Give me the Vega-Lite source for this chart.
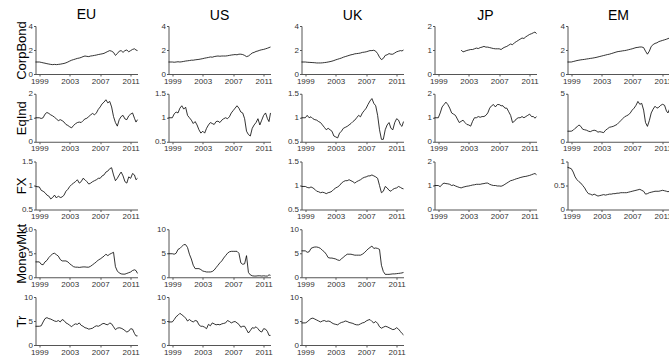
{
"$schema":"https://vega.github.io/schema/vega-lite/v6.json",
"padding":{"left":15.5,"top":7,"right":0,"bottom":0},
"background":"white",
"config":{
 "view":{"stroke":null},
 "font":"Liberation Sans",
 "axis":{"grid":false,"domainColor":"#555","domainWidth":1,"tickColor":"#555","tickSize":2,"labelPadding":1,"labelFont":"Liberation Sans","labelFontSize":8,"labelColor":"#333","title":null},
 "axisY":{"labelPadding":1,"titleFont":"Liberation Sans","titleFontSize":13,"titleFontWeight":"normal","titleColor":"black","titleX":-7,"titleY":24,"titleAngle":-90},
 "title":{"font":"Liberation Sans","fontSize":14,"fontWeight":"normal","color":"black","frame":"group","offset":1,"dy":2},
 "line":{"color":"black","strokeWidth":0.8}
},
"datasets":{"d":[
{"t":1998.5,"EU_CB":1.00,"EU_EQ":1.00,"EU_FX":0.98,"EU_MM":3.2,"EU_TR":3.9,"US_CB":1.00,"US_EQ":1.00,"US_MM":4.9,"US_TR":4.8,"UK_CB":1.00,"UK_EQ":1.00,"UK_FX":0.98,"UK_MM":5.5,"UK_TR":4.6,"JP_CB":null,"JP_EQ":1.00,"JP_FX":1.00,"EM_CB":1.00,"EM_EQ":1.10,"EM_FX":0.88},
{"t":1999.0,"EU_CB":1.00,"EU_EQ":1.00,"EU_FX":0.97,"EU_MM":3.2,"EU_TR":3.9,"US_CB":1.00,"US_EQ":1.00,"US_MM":4.9,"US_TR":4.8,"UK_CB":1.00,"UK_EQ":1.00,"UK_FX":0.98,"UK_MM":5.5,"UK_TR":4.6,"JP_CB":null,"JP_EQ":1.00,"JP_FX":1.00,"EM_CB":1.00,"EM_EQ":1.10,"EM_FX":0.85},
{"t":1999.25,"EU_CB":0.97,"EU_EQ":0.97,"EU_FX":0.90,"EU_MM":2.7,"EU_TR":4.0,"US_CB":0.98,"US_EQ":1.08,"US_MM":4.8,"US_TR":5.3,"UK_CB":0.98,"UK_EQ":1.05,"UK_FX":0.96,"UK_MM":5.2,"UK_TR":4.8,"JP_CB":null,"JP_EQ":1.20,"JP_FX":0.95,"EM_CB":1.04,"EM_EQ":1.20,"EM_FX":0.78},
{"t":1999.5,"EU_CB":0.93,"EU_EQ":1.00,"EU_FX":0.88,"EU_MM":2.6,"EU_TR":4.8,"US_CB":1.00,"US_EQ":1.12,"US_MM":5.0,"US_TR":5.9,"UK_CB":0.97,"UK_EQ":1.00,"UK_FX":0.95,"UK_MM":5.3,"UK_TR":5.2,"JP_CB":null,"JP_EQ":1.45,"JP_FX":1.05,"EM_CB":1.08,"EM_EQ":1.40,"EM_FX":0.68},
{"t":1999.75,"EU_CB":0.90,"EU_EQ":1.15,"EU_FX":0.85,"EU_MM":3.2,"EU_TR":5.5,"US_CB":1.02,"US_EQ":1.10,"US_MM":5.8,"US_TR":6.2,"UK_CB":0.96,"UK_EQ":1.02,"UK_FX":0.97,"UK_MM":6.0,"UK_TR":5.5,"JP_CB":null,"JP_EQ":1.55,"JP_FX":1.10,"EM_CB":1.12,"EM_EQ":1.55,"EM_FX":0.62},
{"t":2000.0,"EU_CB":0.86,"EU_EQ":1.22,"EU_FX":0.80,"EU_MM":3.5,"EU_TR":5.7,"US_CB":1.00,"US_EQ":1.20,"US_MM":6.0,"US_TR":6.6,"UK_CB":0.95,"UK_EQ":0.98,"UK_FX":0.95,"UK_MM":6.2,"UK_TR":5.6,"JP_CB":null,"JP_EQ":1.65,"JP_FX":1.08,"EM_CB":1.15,"EM_EQ":1.75,"EM_FX":0.58},
{"t":2000.25,"EU_CB":0.83,"EU_EQ":1.18,"EU_FX":0.78,"EU_MM":4.1,"EU_TR":5.5,"US_CB":1.02,"US_EQ":1.25,"US_MM":6.4,"US_TR":6.3,"UK_CB":0.94,"UK_EQ":0.96,"UK_FX":0.92,"UK_MM":6.3,"UK_TR":5.4,"JP_CB":null,"JP_EQ":1.55,"JP_FX":1.07,"EM_CB":1.18,"EM_EQ":1.60,"EM_FX":0.55},
{"t":2000.5,"EU_CB":0.80,"EU_EQ":1.12,"EU_FX":0.72,"EU_MM":4.5,"EU_TR":5.4,"US_CB":1.05,"US_EQ":1.18,"US_MM":6.8,"US_TR":6.0,"UK_CB":0.92,"UK_EQ":0.95,"UK_FX":0.88,"UK_MM":6.3,"UK_TR":5.2,"JP_CB":null,"JP_EQ":1.40,"JP_FX":1.05,"EM_CB":1.20,"EM_EQ":1.30,"EM_FX":0.50},
{"t":2000.75,"EU_CB":0.78,"EU_EQ":1.08,"EU_FX":0.75,"EU_MM":4.9,"EU_TR":5.2,"US_CB":1.08,"US_EQ":1.22,"US_MM":6.8,"US_TR":5.6,"UK_CB":0.92,"UK_EQ":0.92,"UK_FX":0.87,"UK_MM":6.2,"UK_TR":5.0,"JP_CB":null,"JP_EQ":1.20,"JP_FX":1.00,"EM_CB":1.22,"EM_EQ":1.25,"EM_FX":0.45},
{"t":2001.0,"EU_CB":0.80,"EU_EQ":1.02,"EU_FX":0.80,"EU_MM":5.0,"EU_TR":5.0,"US_CB":1.10,"US_EQ":1.05,"US_MM":6.2,"US_TR":5.0,"UK_CB":0.92,"UK_EQ":0.90,"UK_FX":0.85,"UK_MM":6.0,"UK_TR":4.8,"JP_CB":null,"JP_EQ":1.15,"JP_FX":1.02,"EM_CB":1.25,"EM_EQ":1.20,"EM_FX":0.38},
{"t":2001.25,"EU_CB":0.78,"EU_EQ":0.95,"EU_FX":0.74,"EU_MM":4.7,"EU_TR":4.9,"US_CB":1.12,"US_EQ":1.00,"US_MM":4.8,"US_TR":5.3,"UK_CB":0.93,"UK_EQ":0.85,"UK_FX":0.86,"UK_MM":5.6,"UK_TR":5.0,"JP_CB":null,"JP_EQ":1.10,"JP_FX":0.98,"EM_CB":1.27,"EM_EQ":1.10,"EM_FX":0.33},
{"t":2001.5,"EU_CB":0.80,"EU_EQ":0.88,"EU_FX":0.78,"EU_MM":4.4,"EU_TR":5.1,"US_CB":1.15,"US_EQ":0.95,"US_MM":3.8,"US_TR":5.0,"UK_CB":0.95,"UK_EQ":0.80,"UK_FX":0.85,"UK_MM":5.3,"UK_TR":5.1,"JP_CB":null,"JP_EQ":0.95,"JP_FX":0.95,"EM_CB":1.30,"EM_EQ":1.05,"EM_FX":0.32},
{"t":2001.75,"EU_CB":0.82,"EU_EQ":0.92,"EU_FX":0.75,"EU_MM":3.7,"EU_TR":4.8,"US_CB":1.15,"US_EQ":0.88,"US_MM":2.5,"US_TR":4.8,"UK_CB":0.97,"UK_EQ":0.75,"UK_FX":0.83,"UK_MM":4.8,"UK_TR":4.9,"JP_CB":null,"JP_EQ":0.80,"JP_FX":0.92,"EM_CB":1.32,"EM_EQ":1.15,"EM_FX":0.30},
{"t":2002.0,"EU_CB":0.85,"EU_EQ":0.88,"EU_FX":0.76,"EU_MM":3.4,"EU_TR":5.3,"US_CB":1.18,"US_EQ":0.92,"US_MM":1.8,"US_TR":5.1,"UK_CB":1.00,"UK_EQ":0.78,"UK_FX":0.85,"UK_MM":4.1,"UK_TR":5.0,"JP_CB":1.00,"JP_EQ":0.85,"JP_FX":0.90,"EM_CB":1.35,"EM_EQ":1.20,"EM_FX":0.32},
{"t":2002.25,"EU_CB":0.88,"EU_EQ":0.82,"EU_FX":0.80,"EU_MM":3.4,"EU_TR":5.1,"US_CB":1.20,"US_EQ":0.85,"US_MM":1.8,"US_TR":5.0,"UK_CB":1.03,"UK_EQ":0.75,"UK_FX":0.86,"UK_MM":4.0,"UK_TR":4.9,"JP_CB":0.92,"JP_EQ":0.90,"JP_FX":0.93,"EM_CB":1.38,"EM_EQ":1.15,"EM_FX":0.30},
{"t":2002.5,"EU_CB":0.93,"EU_EQ":0.72,"EU_FX":0.88,"EU_MM":3.4,"EU_TR":4.6,"US_CB":1.22,"US_EQ":0.75,"US_MM":1.8,"US_TR":4.2,"UK_CB":1.07,"UK_EQ":0.72,"UK_FX":0.88,"UK_MM":4.0,"UK_TR":4.6,"JP_CB":0.95,"JP_EQ":0.80,"JP_FX":0.95,"EM_CB":1.42,"EM_EQ":1.00,"EM_FX":0.28},
{"t":2002.75,"EU_CB":1.00,"EU_EQ":0.68,"EU_FX":0.92,"EU_MM":3.2,"EU_TR":4.4,"US_CB":1.25,"US_EQ":0.68,"US_MM":1.6,"US_TR":3.9,"UK_CB":1.12,"UK_EQ":0.62,"UK_FX":0.92,"UK_MM":3.9,"UK_TR":4.4,"JP_CB":0.98,"JP_EQ":0.72,"JP_FX":0.97,"EM_CB":1.46,"EM_EQ":1.05,"EM_FX":0.29},
{"t":2003.0,"EU_CB":1.08,"EU_EQ":0.62,"EU_FX":0.98,"EU_MM":2.8,"EU_TR":4.1,"US_CB":1.28,"US_EQ":0.72,"US_MM":1.3,"US_TR":3.9,"UK_CB":1.18,"UK_EQ":0.60,"UK_FX":0.95,"UK_MM":3.8,"UK_TR":4.3,"JP_CB":1.00,"JP_EQ":0.70,"JP_FX":0.98,"EM_CB":1.50,"EM_EQ":1.00,"EM_FX":0.30},
{"t":2003.25,"EU_CB":1.15,"EU_EQ":0.58,"EU_FX":1.02,"EU_MM":2.5,"EU_TR":3.8,"US_CB":1.32,"US_EQ":0.68,"US_MM":1.2,"US_TR":3.7,"UK_CB":1.23,"UK_EQ":0.58,"UK_FX":0.97,"UK_MM":3.6,"UK_TR":4.2,"JP_CB":1.02,"JP_EQ":0.65,"JP_FX":1.00,"EM_CB":1.54,"EM_EQ":0.95,"EM_FX":0.31},
{"t":2003.5,"EU_CB":1.20,"EU_EQ":0.68,"EU_FX":1.05,"EU_MM":2.2,"EU_TR":4.2,"US_CB":1.35,"US_EQ":0.78,"US_MM":1.1,"US_TR":3.4,"UK_CB":1.28,"UK_EQ":0.68,"UK_FX":1.00,"UK_MM":3.5,"UK_TR":4.5,"JP_CB":1.02,"JP_EQ":0.85,"JP_FX":1.02,"EM_CB":1.58,"EM_EQ":1.20,"EM_FX":0.30},
{"t":2003.75,"EU_CB":1.25,"EU_EQ":0.75,"EU_FX":1.08,"EU_MM":2.1,"EU_TR":4.4,"US_CB":1.38,"US_EQ":0.85,"US_MM":1.1,"US_TR":4.3,"UK_CB":1.33,"UK_EQ":0.72,"UK_FX":1.05,"UK_MM":3.8,"UK_TR":4.7,"JP_CB":1.05,"JP_EQ":1.00,"JP_FX":1.03,"EM_CB":1.62,"EM_EQ":1.35,"EM_FX":0.31},
{"t":2004.0,"EU_CB":1.30,"EU_EQ":0.80,"EU_FX":1.12,"EU_MM":2.1,"EU_TR":4.3,"US_CB":1.42,"US_EQ":0.90,"US_MM":1.1,"US_TR":4.0,"UK_CB":1.40,"UK_EQ":0.78,"UK_FX":1.08,"UK_MM":4.2,"UK_TR":4.8,"JP_CB":1.08,"JP_EQ":1.00,"JP_FX":1.05,"EM_CB":1.65,"EM_EQ":1.50,"EM_FX":0.32},
{"t":2004.25,"EU_CB":1.33,"EU_EQ":0.82,"EU_FX":1.05,"EU_MM":2.05,"EU_TR":4.6,"US_CB":1.40,"US_EQ":0.88,"US_MM":1.2,"US_TR":4.6,"UK_CB":1.45,"UK_EQ":0.80,"UK_FX":1.10,"UK_MM":4.5,"UK_TR":5.0,"JP_CB":1.06,"JP_EQ":1.05,"JP_FX":1.05,"EM_CB":1.70,"EM_EQ":1.55,"EM_FX":0.32},
{"t":2004.5,"EU_CB":1.38,"EU_EQ":0.80,"EU_FX":1.08,"EU_MM":2.1,"EU_TR":4.1,"US_CB":1.45,"US_EQ":0.86,"US_MM":1.5,"US_TR":4.4,"UK_CB":1.50,"UK_EQ":0.82,"UK_FX":1.10,"UK_MM":4.8,"UK_TR":4.9,"JP_CB":1.10,"JP_EQ":1.02,"JP_FX":1.05,"EM_CB":1.75,"EM_EQ":1.60,"EM_FX":0.33},
{"t":2004.75,"EU_CB":1.45,"EU_EQ":0.88,"EU_FX":1.15,"EU_MM":2.15,"EU_TR":3.9,"US_CB":1.48,"US_EQ":0.92,"US_MM":2.0,"US_TR":4.2,"UK_CB":1.55,"UK_EQ":0.85,"UK_FX":1.12,"UK_MM":4.8,"UK_TR":4.7,"JP_CB":1.12,"JP_EQ":1.05,"JP_FX":1.07,"EM_CB":1.80,"EM_EQ":1.70,"EM_FX":0.33},
{"t":2005.0,"EU_CB":1.50,"EU_EQ":0.95,"EU_FX":1.12,"EU_MM":2.15,"EU_TR":3.6,"US_CB":1.50,"US_EQ":0.93,"US_MM":2.5,"US_TR":4.3,"UK_CB":1.60,"UK_EQ":0.88,"UK_FX":1.10,"UK_MM":4.8,"UK_TR":4.6,"JP_CB":1.15,"JP_EQ":1.05,"JP_FX":1.08,"EM_CB":1.85,"EM_EQ":1.80,"EM_FX":0.34},
{"t":2005.25,"EU_CB":1.47,"EU_EQ":0.98,"EU_FX":1.08,"EU_MM":2.1,"EU_TR":3.5,"US_CB":1.48,"US_EQ":0.90,"US_MM":3.0,"US_TR":4.2,"UK_CB":1.63,"UK_EQ":0.92,"UK_FX":1.08,"UK_MM":4.7,"UK_TR":4.5,"JP_CB":1.12,"JP_EQ":1.10,"JP_FX":1.10,"EM_CB":1.88,"EM_EQ":2.00,"EM_FX":0.34},
{"t":2005.5,"EU_CB":1.45,"EU_EQ":1.05,"EU_FX":1.03,"EU_MM":2.1,"EU_TR":3.3,"US_CB":1.50,"US_EQ":0.95,"US_MM":3.4,"US_TR":4.4,"UK_CB":1.68,"UK_EQ":0.95,"UK_FX":1.05,"UK_MM":4.6,"UK_TR":4.3,"JP_CB":1.12,"JP_EQ":1.20,"JP_FX":1.10,"EM_CB":1.90,"EM_EQ":2.20,"EM_FX":0.35},
{"t":2005.75,"EU_CB":1.50,"EU_EQ":1.12,"EU_FX":1.05,"EU_MM":2.3,"EU_TR":3.4,"US_CB":1.50,"US_EQ":0.98,"US_MM":4.0,"US_TR":4.5,"UK_CB":1.70,"UK_EQ":1.00,"UK_FX":1.08,"UK_MM":4.6,"UK_TR":4.2,"JP_CB":1.10,"JP_EQ":1.40,"JP_FX":1.05,"EM_CB":1.93,"EM_EQ":2.40,"EM_FX":0.35},
{"t":2006.0,"EU_CB":1.52,"EU_EQ":1.18,"EU_FX":1.08,"EU_MM":2.6,"EU_TR":3.5,"US_CB":1.50,"US_EQ":1.00,"US_MM":4.5,"US_TR":4.6,"UK_CB":1.72,"UK_EQ":1.05,"UK_FX":1.10,"UK_MM":4.6,"UK_TR":4.2,"JP_CB":1.08,"JP_EQ":1.50,"JP_FX":1.02,"EM_CB":1.95,"EM_EQ":2.60,"EM_FX":0.35},
{"t":2006.25,"EU_CB":1.55,"EU_EQ":1.12,"EU_FX":1.10,"EU_MM":2.9,"EU_TR":3.8,"US_CB":1.52,"US_EQ":0.98,"US_MM":5.0,"US_TR":5.1,"UK_CB":1.75,"UK_EQ":1.02,"UK_FX":1.12,"UK_MM":4.6,"UK_TR":4.4,"JP_CB":1.06,"JP_EQ":1.55,"JP_FX":1.00,"EM_CB":1.98,"EM_EQ":2.70,"EM_FX":0.35},
{"t":2006.5,"EU_CB":1.58,"EU_EQ":1.20,"EU_FX":1.12,"EU_MM":3.2,"EU_TR":4.0,"US_CB":1.55,"US_EQ":1.02,"US_MM":5.3,"US_TR":4.9,"UK_CB":1.80,"UK_EQ":1.10,"UK_FX":1.15,"UK_MM":4.8,"UK_TR":4.6,"JP_CB":1.05,"JP_EQ":1.45,"JP_FX":1.00,"EM_CB":2.02,"EM_EQ":2.80,"EM_FX":0.36},
{"t":2006.75,"EU_CB":1.62,"EU_EQ":1.35,"EU_FX":1.15,"EU_MM":3.6,"EU_TR":3.9,"US_CB":1.58,"US_EQ":1.10,"US_MM":5.4,"US_TR":4.6,"UK_CB":1.82,"UK_EQ":1.15,"UK_FX":1.17,"UK_MM":5.1,"UK_TR":4.7,"JP_CB":1.05,"JP_EQ":1.55,"JP_FX":0.98,"EM_CB":2.06,"EM_EQ":3.00,"EM_FX":0.37},
{"t":2007.0,"EU_CB":1.65,"EU_EQ":1.45,"EU_FX":1.15,"EU_MM":3.8,"EU_TR":4.1,"US_CB":1.60,"US_EQ":1.15,"US_MM":5.4,"US_TR":4.8,"UK_CB":1.85,"UK_EQ":1.20,"UK_FX":1.18,"UK_MM":5.5,"UK_TR":5.0,"JP_CB":1.05,"JP_EQ":1.55,"JP_FX":0.98,"EM_CB":2.10,"EM_EQ":3.30,"EM_FX":0.38},
{"t":2007.25,"EU_CB":1.68,"EU_EQ":1.58,"EU_FX":1.20,"EU_MM":4.1,"EU_TR":4.4,"US_CB":1.62,"US_EQ":1.20,"US_MM":5.4,"US_TR":4.9,"UK_CB":1.90,"UK_EQ":1.28,"UK_FX":1.20,"UK_MM":5.9,"UK_TR":5.2,"JP_CB":1.02,"JP_EQ":1.50,"JP_FX":0.97,"EM_CB":2.15,"EM_EQ":3.50,"EM_FX":0.39},
{"t":2007.5,"EU_CB":1.72,"EU_EQ":1.65,"EU_FX":1.22,"EU_MM":4.4,"EU_TR":4.5,"US_CB":1.60,"US_EQ":1.25,"US_MM":5.4,"US_TR":4.6,"UK_CB":1.95,"UK_EQ":1.35,"UK_FX":1.20,"UK_MM":6.2,"UK_TR":5.3,"JP_CB":1.08,"JP_EQ":1.50,"JP_FX":1.00,"EM_CB":2.20,"EM_EQ":3.80,"EM_FX":0.40},
{"t":2007.75,"EU_CB":1.80,"EU_EQ":1.75,"EU_FX":1.28,"EU_MM":4.8,"EU_TR":4.3,"US_CB":1.65,"US_EQ":1.20,"US_MM":5.0,"US_TR":4.3,"UK_CB":1.95,"UK_EQ":1.40,"UK_FX":1.22,"UK_MM":6.5,"UK_TR":4.9,"JP_CB":1.12,"JP_EQ":1.40,"JP_FX":1.05,"EM_CB":2.22,"EM_EQ":4.20,"EM_FX":0.41},
{"t":2008.0,"EU_CB":1.88,"EU_EQ":1.62,"EU_FX":1.30,"EU_MM":4.5,"EU_TR":4.2,"US_CB":1.65,"US_EQ":1.12,"US_MM":3.0,"US_TR":3.7,"UK_CB":1.98,"UK_EQ":1.30,"UK_FX":1.20,"UK_MM":6.0,"UK_TR":4.6,"JP_CB":1.15,"JP_EQ":1.40,"JP_FX":1.10,"EM_CB":2.25,"EM_EQ":3.90,"EM_FX":0.42},
{"t":2008.25,"EU_CB":1.95,"EU_EQ":1.68,"EU_FX":1.35,"EU_MM":4.8,"EU_TR":4.6,"US_CB":1.62,"US_EQ":1.10,"US_MM":2.7,"US_TR":3.9,"UK_CB":1.90,"UK_EQ":1.25,"UK_FX":1.18,"UK_MM":6.1,"UK_TR":4.9,"JP_CB":1.20,"JP_EQ":1.25,"JP_FX":1.15,"EM_CB":2.25,"EM_EQ":4.00,"EM_FX":0.40},
{"t":2008.5,"EU_CB":1.90,"EU_EQ":1.45,"EU_FX":1.37,"EU_MM":5.0,"EU_TR":4.4,"US_CB":1.55,"US_EQ":0.98,"US_MM":2.8,"US_TR":3.9,"UK_CB":1.70,"UK_EQ":1.05,"UK_FX":1.15,"UK_MM":6.0,"UK_TR":4.5,"JP_CB":1.25,"JP_EQ":1.10,"JP_FX":1.20,"EM_CB":2.20,"EM_EQ":3.30,"EM_FX":0.38},
{"t":2008.75,"EU_CB":1.80,"EU_EQ":1.05,"EU_FX":1.22,"EU_MM":5.2,"EU_TR":3.8,"US_CB":1.45,"US_EQ":0.72,"US_MM":4.5,"US_TR":3.2,"UK_CB":1.40,"UK_EQ":0.75,"UK_FX":1.00,"UK_MM":5.8,"UK_TR":3.8,"JP_CB":1.22,"JP_EQ":0.80,"JP_FX":1.22,"EM_CB":1.90,"EM_EQ":2.00,"EM_FX":0.32},
{"t":2009.0,"EU_CB":1.55,"EU_EQ":0.80,"EU_FX":1.10,"EU_MM":2.2,"EU_TR":3.2,"US_CB":1.50,"US_EQ":0.65,"US_MM":1.0,"US_TR":2.5,"UK_CB":1.20,"UK_EQ":0.55,"UK_FX":0.85,"UK_MM":2.5,"UK_TR":3.5,"JP_CB":1.30,"JP_EQ":0.85,"JP_FX":1.25,"EM_CB":1.65,"EM_EQ":1.60,"EM_FX":0.33},
{"t":2009.25,"EU_CB":1.70,"EU_EQ":0.65,"EU_FX":1.15,"EU_MM":1.3,"EU_TR":3.5,"US_CB":1.62,"US_EQ":0.62,"US_MM":0.5,"US_TR":3.0,"UK_CB":1.30,"UK_EQ":0.55,"UK_FX":0.88,"UK_MM":1.2,"UK_TR":3.7,"JP_CB":1.35,"JP_EQ":0.95,"JP_FX":1.28,"EM_CB":1.90,"EM_EQ":2.20,"EM_FX":0.35},
{"t":2009.5,"EU_CB":1.90,"EU_EQ":0.92,"EU_FX":1.22,"EU_MM":0.9,"EU_TR":3.6,"US_CB":1.75,"US_EQ":0.78,"US_MM":0.3,"US_TR":3.6,"UK_CB":1.55,"UK_EQ":0.75,"UK_FX":0.98,"UK_MM":0.6,"UK_TR":3.9,"JP_CB":1.40,"JP_EQ":1.00,"JP_FX":1.30,"EM_CB":2.30,"EM_EQ":3.00,"EM_FX":0.36},
{"t":2009.75,"EU_CB":1.95,"EU_EQ":1.05,"EU_FX":1.28,"EU_MM":0.7,"EU_TR":3.5,"US_CB":1.80,"US_EQ":0.85,"US_MM":0.25,"US_TR":3.5,"UK_CB":1.60,"UK_EQ":0.85,"UK_FX":0.95,"UK_MM":0.6,"UK_TR":3.8,"JP_CB":1.45,"JP_EQ":1.00,"JP_FX":1.33,"EM_CB":2.45,"EM_EQ":3.40,"EM_FX":0.37},
{"t":2010.0,"EU_CB":1.80,"EU_EQ":1.10,"EU_FX":1.20,"EU_MM":0.65,"EU_TR":3.3,"US_CB":1.88,"US_EQ":0.90,"US_MM":0.25,"US_TR":3.8,"UK_CB":1.70,"UK_EQ":0.90,"UK_FX":0.90,"UK_MM":0.6,"UK_TR":3.6,"JP_CB":1.50,"JP_EQ":1.05,"JP_FX":1.35,"EM_CB":2.55,"EM_EQ":3.70,"EM_FX":0.38},
{"t":2010.25,"EU_CB":1.95,"EU_EQ":0.95,"EU_FX":1.08,"EU_MM":0.65,"EU_TR":3.0,"US_CB":1.92,"US_EQ":0.98,"US_MM":0.3,"US_TR":3.4,"UK_CB":1.65,"UK_EQ":0.78,"UK_FX":0.88,"UK_MM":0.65,"UK_TR":3.4,"JP_CB":1.48,"JP_EQ":1.00,"JP_FX":1.37,"EM_CB":2.60,"EM_EQ":3.50,"EM_FX":0.38},
{"t":2010.5,"EU_CB":2.00,"EU_EQ":0.92,"EU_FX":1.05,"EU_MM":0.8,"EU_TR":2.7,"US_CB":1.98,"US_EQ":0.85,"US_MM":0.3,"US_TR":2.9,"UK_CB":1.65,"UK_EQ":0.75,"UK_FX":0.92,"UK_MM":0.7,"UK_TR":3.2,"JP_CB":1.55,"JP_EQ":1.05,"JP_FX":1.38,"EM_CB":2.70,"EM_EQ":3.60,"EM_FX":0.38},
{"t":2010.75,"EU_CB":1.85,"EU_EQ":1.08,"EU_FX":1.18,"EU_MM":0.95,"EU_TR":2.9,"US_CB":2.02,"US_EQ":0.95,"US_MM":0.25,"US_TR":2.7,"UK_CB":1.75,"UK_EQ":0.90,"UK_FX":0.94,"UK_MM":0.7,"UK_TR":3.3,"JP_CB":1.60,"JP_EQ":1.10,"JP_FX":1.40,"EM_CB":2.75,"EM_EQ":3.80,"EM_FX":0.39},
{"t":2011.0,"EU_CB":1.95,"EU_EQ":1.15,"EU_FX":1.15,"EU_MM":1.1,"EU_TR":3.4,"US_CB":2.05,"US_EQ":1.05,"US_MM":0.3,"US_TR":3.4,"UK_CB":1.85,"UK_EQ":0.98,"UK_FX":0.95,"UK_MM":0.75,"UK_TR":3.6,"JP_CB":1.65,"JP_EQ":1.15,"JP_FX":1.42,"EM_CB":2.80,"EM_EQ":3.90,"EM_FX":0.40},
{"t":2011.25,"EU_CB":2.05,"EU_EQ":1.20,"EU_FX":1.25,"EU_MM":1.4,"EU_TR":3.3,"US_CB":2.10,"US_EQ":1.10,"US_MM":0.25,"US_TR":3.3,"UK_CB":1.90,"UK_EQ":0.95,"UK_FX":0.98,"UK_MM":0.8,"UK_TR":3.3,"JP_CB":1.68,"JP_EQ":1.05,"JP_FX":1.45,"EM_CB":2.85,"EM_EQ":3.80,"EM_FX":0.39},
{"t":2011.5,"EU_CB":2.10,"EU_EQ":0.98,"EU_FX":1.22,"EU_MM":1.55,"EU_TR":2.4,"US_CB":2.15,"US_EQ":0.98,"US_MM":0.25,"US_TR":2.8,"UK_CB":1.95,"UK_EQ":0.85,"UK_FX":0.96,"UK_MM":0.85,"UK_TR":2.8,"JP_CB":1.72,"JP_EQ":1.05,"JP_FX":1.48,"EM_CB":2.90,"EM_EQ":3.20,"EM_FX":0.38},
{"t":2011.7,"EU_CB":2.00,"EU_EQ":0.82,"EU_FX":1.12,"EU_MM":1.4,"EU_TR":1.9,"US_CB":2.20,"US_EQ":0.92,"US_MM":0.5,"US_TR":2.0,"UK_CB":1.92,"UK_EQ":0.82,"UK_FX":0.94,"UK_MM":0.9,"UK_TR":2.4,"JP_CB":1.75,"JP_EQ":0.98,"JP_FX":1.50,"EM_CB":2.95,"EM_EQ":3.00,"EM_FX":0.37},
{"t":2011.9,"EU_CB":1.95,"EU_EQ":0.92,"EU_FX":1.15,"EU_MM":0.8,"EU_TR":1.9,"US_CB":2.25,"US_EQ":1.10,"US_MM":0.4,"US_TR":2.0,"UK_CB":2.00,"UK_EQ":0.92,"UK_FX":0.93,"UK_MM":1.0,"UK_TR":2.1,"JP_CB":1.68,"JP_EQ":1.05,"JP_FX":1.45,"EM_CB":3.00,"EM_EQ":3.40,"EM_FX":0.38}
]},
"bounds":"flush",
"columns":5,
"spacing":{"row":19.75,"column":31},
"concat":[
{"title":"EU","width":102,"height":48,"data":{"name":"d"},"mark":"line","encoding":{"x":{"field":"t","type":"quantitative","scale":{"domain":[1998.5,2011.9],"nice":false,"zero":false},"axis":{"values":[1999,2003,2007,2011],"format":"d"}},"y":{"field":"EU_CB","type":"quantitative","scale":{"domain":[0,4],"nice":false},"axis":{"values":[0,2,4],"format":".2~f","title":"CorpBond"}}}},
{"title":"US","width":102,"height":48,"data":{"name":"d"},"mark":"line","encoding":{"x":{"field":"t","type":"quantitative","scale":{"domain":[1998.5,2011.9],"nice":false,"zero":false},"axis":{"values":[1999,2003,2007,2011],"format":"d"}},"y":{"field":"US_CB","type":"quantitative","scale":{"domain":[0,4],"nice":false},"axis":{"values":[0,2,4],"format":".2~f"}}}},
{"title":"UK","width":102,"height":48,"data":{"name":"d"},"mark":"line","encoding":{"x":{"field":"t","type":"quantitative","scale":{"domain":[1998.5,2011.9],"nice":false,"zero":false},"axis":{"values":[1999,2003,2007,2011],"format":"d"}},"y":{"field":"UK_CB","type":"quantitative","scale":{"domain":[0,4],"nice":false},"axis":{"values":[0,2,4],"format":".2~f"}}}},
{"title":"JP","width":102,"height":48,"data":{"name":"d"},"mark":"line","encoding":{"x":{"field":"t","type":"quantitative","scale":{"domain":[1998.5,2011.9],"nice":false,"zero":false},"axis":{"values":[1999,2003,2007,2011],"format":"d"}},"y":{"field":"JP_CB","type":"quantitative","scale":{"domain":[0,2],"nice":false},"axis":{"values":[0,1,2],"format":".2~f"}}}},
{"title":"EM","width":102,"height":48,"data":{"name":"d"},"mark":"line","encoding":{"x":{"field":"t","type":"quantitative","scale":{"domain":[1998.5,2011.9],"nice":false,"zero":false},"axis":{"values":[1999,2003,2007,2011],"format":"d"}},"y":{"field":"EM_CB","type":"quantitative","scale":{"domain":[0,4],"nice":false},"axis":{"values":[0,2,4],"format":".2~f"}}}},

{"width":102,"height":48,"data":{"name":"d"},"mark":"line","encoding":{"x":{"field":"t","type":"quantitative","scale":{"domain":[1998.5,2011.9],"nice":false,"zero":false},"axis":{"values":[1999,2003,2007,2011],"format":"d"}},"y":{"field":"EU_EQ","type":"quantitative","scale":{"domain":[0,2],"nice":false},"axis":{"values":[0,1,2],"format":".2~f","title":"EqInd"}}}},
{"width":102,"height":48,"data":{"name":"d"},"mark":"line","encoding":{"x":{"field":"t","type":"quantitative","scale":{"domain":[1998.5,2011.9],"nice":false,"zero":false},"axis":{"values":[1999,2003,2007,2011],"format":"d"}},"y":{"field":"US_EQ","type":"quantitative","scale":{"domain":[0.5,1.5],"nice":false,"zero":false},"axis":{"values":[0.5,1,1.5],"format":".2~f"}}}},
{"width":102,"height":48,"data":{"name":"d"},"mark":"line","encoding":{"x":{"field":"t","type":"quantitative","scale":{"domain":[1998.5,2011.9],"nice":false,"zero":false},"axis":{"values":[1999,2003,2007,2011],"format":"d"}},"y":{"field":"UK_EQ","type":"quantitative","scale":{"domain":[0.5,1.5],"nice":false,"zero":false},"axis":{"values":[0.5,1,1.5],"format":".2~f"}}}},
{"width":102,"height":48,"data":{"name":"d"},"mark":"line","encoding":{"x":{"field":"t","type":"quantitative","scale":{"domain":[1998.5,2011.9],"nice":false,"zero":false},"axis":{"values":[1999,2003,2007,2011],"format":"d"}},"y":{"field":"JP_EQ","type":"quantitative","scale":{"domain":[0,2],"nice":false},"axis":{"values":[0,1,2],"format":".2~f"}}}},
{"width":102,"height":48,"data":{"name":"d"},"mark":"line","encoding":{"x":{"field":"t","type":"quantitative","scale":{"domain":[1998.5,2011.9],"nice":false,"zero":false},"axis":{"values":[1999,2003,2007,2011],"format":"d"}},"y":{"field":"EM_EQ","type":"quantitative","scale":{"domain":[0,5],"nice":false},"axis":{"values":[0,5],"format":".2~f"}}}},

{"width":102,"height":48,"data":{"name":"d"},"mark":"line","encoding":{"x":{"field":"t","type":"quantitative","scale":{"domain":[1998.5,2011.9],"nice":false,"zero":false},"axis":{"values":[1999,2003,2007,2011],"format":"d"}},"y":{"field":"EU_FX","type":"quantitative","scale":{"domain":[0.5,1.5],"nice":false,"zero":false},"axis":{"values":[0.5,1,1.5],"format":".2~f","title":"FX"}}}},
{"width":102,"height":48,"data":{"values":[{"a":1}]},"mark":{"type":"point","opacity":0},"encoding":{}},
{"width":102,"height":48,"data":{"name":"d"},"mark":"line","encoding":{"x":{"field":"t","type":"quantitative","scale":{"domain":[1998.5,2011.9],"nice":false,"zero":false},"axis":{"values":[1999,2003,2007,2011],"format":"d"}},"y":{"field":"UK_FX","type":"quantitative","scale":{"domain":[0.5,1.5],"nice":false,"zero":false},"axis":{"values":[0.5,1,1.5],"format":".2~f"}}}},
{"width":102,"height":48,"data":{"name":"d"},"mark":"line","encoding":{"x":{"field":"t","type":"quantitative","scale":{"domain":[1998.5,2011.9],"nice":false,"zero":false},"axis":{"values":[1999,2003,2007,2011],"format":"d"}},"y":{"field":"JP_FX","type":"quantitative","scale":{"domain":[0,2],"nice":false},"axis":{"values":[0,1,2],"format":".2~f"}}}},
{"width":102,"height":48,"data":{"name":"d"},"mark":"line","encoding":{"x":{"field":"t","type":"quantitative","scale":{"domain":[1998.5,2011.9],"nice":false,"zero":false},"axis":{"values":[1999,2003,2007,2011],"format":"d"}},"y":{"field":"EM_FX","type":"quantitative","scale":{"domain":[0,1],"nice":false},"axis":{"values":[0,0.5,1],"format":".2~f"}}}},

{"width":102,"height":48,"data":{"name":"d"},"mark":"line","encoding":{"x":{"field":"t","type":"quantitative","scale":{"domain":[1998.5,2011.9],"nice":false,"zero":false},"axis":{"values":[1999,2003,2007,2011],"format":"d"}},"y":{"field":"EU_MM","type":"quantitative","scale":{"domain":[0,10],"nice":false},"axis":{"values":[0,5,10],"format":".2~f","title":"MoneyMkt"}}}},
{"width":102,"height":48,"data":{"name":"d"},"mark":"line","encoding":{"x":{"field":"t","type":"quantitative","scale":{"domain":[1998.5,2011.9],"nice":false,"zero":false},"axis":{"values":[1999,2003,2007,2011],"format":"d"}},"y":{"field":"US_MM","type":"quantitative","scale":{"domain":[0,10],"nice":false},"axis":{"values":[0,5,10],"format":".2~f"}}}},
{"width":102,"height":48,"data":{"name":"d"},"mark":"line","encoding":{"x":{"field":"t","type":"quantitative","scale":{"domain":[1998.5,2011.9],"nice":false,"zero":false},"axis":{"values":[1999,2003,2007,2011],"format":"d"}},"y":{"field":"UK_MM","type":"quantitative","scale":{"domain":[0,10],"nice":false},"axis":{"values":[0,5,10],"format":".2~f"}}}},
{"width":102,"height":48,"data":{"values":[{"a":1}]},"mark":{"type":"point","opacity":0},"encoding":{}},
{"width":102,"height":48,"data":{"values":[{"a":1}]},"mark":{"type":"point","opacity":0},"encoding":{}},

{"width":102,"height":48,"data":{"name":"d"},"mark":"line","encoding":{"x":{"field":"t","type":"quantitative","scale":{"domain":[1998.5,2011.9],"nice":false,"zero":false},"axis":{"values":[1999,2003,2007,2011],"format":"d"}},"y":{"field":"EU_TR","type":"quantitative","scale":{"domain":[0,10],"nice":false},"axis":{"values":[0,5,10],"format":".2~f","title":"Tr"}}}},
{"width":102,"height":48,"data":{"name":"d"},"mark":"line","encoding":{"x":{"field":"t","type":"quantitative","scale":{"domain":[1998.5,2011.9],"nice":false,"zero":false},"axis":{"values":[1999,2003,2007,2011],"format":"d"}},"y":{"field":"US_TR","type":"quantitative","scale":{"domain":[0,10],"nice":false},"axis":{"values":[0,5,10],"format":".2~f"}}}},
{"width":102,"height":48,"data":{"name":"d"},"mark":"line","encoding":{"x":{"field":"t","type":"quantitative","scale":{"domain":[1998.5,2011.9],"nice":false,"zero":false},"axis":{"values":[1999,2003,2007,2011],"format":"d"}},"y":{"field":"UK_TR","type":"quantitative","scale":{"domain":[0,10],"nice":false},"axis":{"values":[0,5,10],"format":".2~f"}}}}
]
}
